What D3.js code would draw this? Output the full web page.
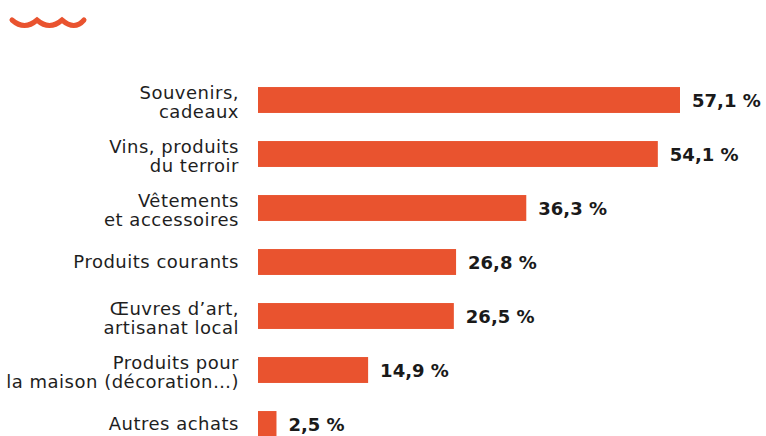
<!DOCTYPE html>
<html>
<head>
<meta charset="utf-8">
<script src="https://cdn.jsdelivr.net/npm/d3@7"></script>
<style>
  html, body { margin: 0; padding: 0; background: #fff; }
  svg { display: block; }
  text { font-family: "DejaVu Sans", "Open Sans", sans-serif; }
</style>
</head>
<body>
<div id="chart"></div>
<script>
// Purchases made during the stay (share of respondents, %)
const categories = [
  ["Souvenirs,", "cadeaux"],
  ["Vins, produits", "du terroir"],
  ["Vêtements", "et accessoires"],
  ["Produits courants"],
  ["Œuvres d’art,", "artisanat local"],
  ["Produits pour", "la maison (décoration…)"],
  ["Autres achats"]
];
const values = [57.1, 54.1, 36.3, 26.8, 26.5, 14.9, 2.5];
const valueLabels = ["57,1 %", "54,1 %", "36,3 %", "26,8 %", "26,5 %", "14,9 %", "2,5 %"];

const W = 766, H = 436;
const orange = "#E9532F";

const svg = d3.select("#chart").append("svg")
  .attr("width", W).attr("height", H);

// Decorative wave mark in the top-left corner
const wave = d3.path();
wave.moveTo(12, 20);
wave.quadraticCurveTo(24.5, 31, 37, 20);
wave.quadraticCurveTo(49.5, 31, 62, 20);
wave.quadraticCurveTo(74.5, 31, 84, 20);
svg.append("path")
  .attr("d", wave.toString())
  .attr("fill", "none")
  .attr("stroke", orange)
  .attr("stroke-width", 5)
  .attr("stroke-linecap", "round");

const x = d3.scaleLinear().domain([0, 57.1]).range([258, 680]);
const y = d3.scaleBand()
  .domain(d3.range(values.length))
  .range([73, 73 + 54 * values.length])
  .paddingInner(0.52)
  .paddingOuter(0.26);

const rows = svg.selectAll("g.row")
  .data(values.map((v, i) => ({ v, i })))
  .join("g").attr("class", "row");

rows.append("rect")
  .attr("x", x(0))
  .attr("y", d => y(d.i))
  .attr("width", d => x(d.v) - x(0))
  .attr("height", y.bandwidth())
  .attr("fill", orange);

rows.append("text")
  .attr("x", d => x(d.v) + 12)
  .attr("y", d => y(d.i) + y.bandwidth() / 2 + 6.5)
  .attr("font-size", 18)
  .attr("font-weight", 700)
  .attr("fill", "#1a1a1a")
  .text(d => valueLabels[d.i]);

// Category labels, right-aligned, wrapped over one or two lines
const lineH = 19;
rows.append("text")
  .attr("text-anchor", "end")
  .attr("font-size", 18)
  .attr("letter-spacing", 0.5)
  .attr("fill", "#1e1e1e")
  .each(function(d) {
    const lines = categories[d.i];
    const n = lines.length;
    const cy = y(d.i) + y.bandwidth() / 2;
    const base = cy + 6 + (n > 1 ? 2.5 : 0);
    d3.select(this).selectAll("tspan")
      .data(lines)
      .join("tspan")
      .attr("x", 239)
      .attr("y", (t, k) => base + (k - (n - 1) / 2) * lineH)
      .text(t => t);
  });
</script>
</body>
</html>
